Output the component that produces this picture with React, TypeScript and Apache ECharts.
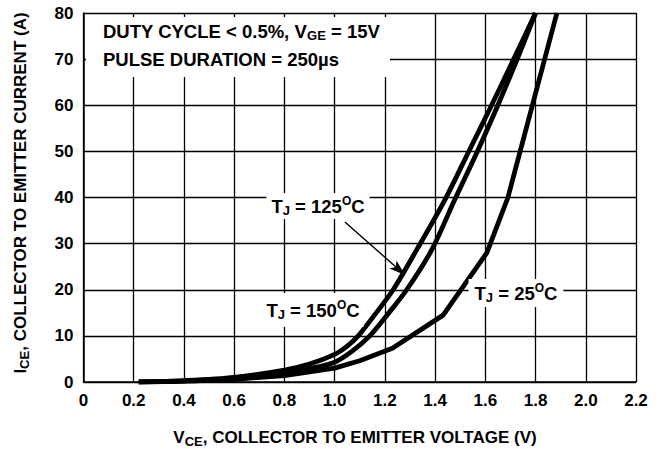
import React, { useEffect, useRef } from "react";
import * as echarts from "echarts";

const xTicks = [0, 0.2, 0.4, 0.6, 0.8, 1.0, 1.2, 1.4, 1.6, 1.8, 2.0, 2.2];
const yTicks = [0, 10, 20, 30, 40, 50, 60, 70, 80];

const tj150: [number, number][] = [
  [0.22, 0], [0.4, 0.3], [0.6, 1.0], [0.8, 2.6], [0.9, 3.9], [1.0, 6.0], [1.05, 7.8],
  [1.094, 10], [1.16, 14.6], [1.233, 20], [1.326, 28.6], [1.439, 39.5], [1.537, 50.3],
  [1.625, 60], [1.713, 70], [1.8, 80],
];
const tj125: [number, number][] = [
  [0.22, 0], [0.4, 0.2], [0.6, 0.7], [0.8, 1.9], [0.9, 2.9], [1.0, 4.3], [1.07, 6.7], [1.14, 10],
  [1.21, 14.6], [1.287, 20], [1.386, 28.6], [1.478, 39.5], [1.571, 50.3], [1.65, 60], [1.727, 70], [1.8, 80],
];
const tj25: [number, number][] = [
  [0.22, 0], [0.4, 0.2], [0.6, 0.6], [0.8, 1.4], [1.0, 3.0], [1.1, 4.6], [1.23, 7.3],
  [1.432, 14.5], [1.606, 28], [1.69, 40], [1.885, 80],
];
const arrowFrom: [number, number] = [1.041, 34.7];
const arrowTo: [number, number] = [1.28, 23.2];

const FONT = "'Liberation Sans', Arial, Helvetica, sans-serif";
const FS = 17;

function makeRich(fs: number) {
  return {
    a: { fontFamily: FONT, fontWeight: "bold", fontSize: fs, lineHeight: 22, color: "#000" },
    sub: { fontFamily: FONT, fontWeight: "bold", fontSize: 13, lineHeight: 13, verticalAlign: "bottom", color: "#000" },
    sup: { fontFamily: FONT, fontWeight: "bold", fontSize: 12, lineHeight: 12, verticalAlign: "top", color: "#000" },
  };
}
const rich = makeRich(FS);
const richBig = makeRich(18.5);

function tjLabel(temp: string, x: number, y: number, padding: number[]) {
  return {
    type: "text",
    x,
    y,
    z: 10,
    style: {
      text: `{a|T}{sub|J}{a| = ${temp}}{sup|O}{a|C}`,
      rich: richBig,
      align: "center",
      verticalAlign: "middle",
      backgroundColor: "#fff",
      padding,
    },
  };
}

export default function App() {
  const ref = useRef<HTMLDivElement>(null);
  useEffect(() => {
    if (!ref.current) return;
    const chart = echarts.init(ref.current, undefined, { renderer: "svg" });
    const lineSeries = (name: string, data: [number, number][], smooth: boolean | number) => ({
      name,
      type: "line",
      data,
      smooth,
      symbol: "none",
      lineStyle: { color: "#000", width: 4.8, join: "round", cap: "butt" },
      z: 5,
    });
    chart.setOption({
      animation: false,
      backgroundColor: "#fff",
      grid: { left: 83.5, right: 24, top: 13, bottom: 67, containLabel: false },
      xAxis: {
        type: "value",
        min: xTicks[0],
        max: xTicks[xTicks.length - 1],
        interval: 0.2,
        axisLine: { show: true, lineStyle: { color: "#000", width: 1.5 } },
        axisTick: { show: false },
        axisLabel: {
          margin: 10,
          fontFamily: FONT,
          fontWeight: "bold",
          fontSize: FS,
          color: "#000",
          formatter: (v: number) => (v === 0 ? "0" : v.toFixed(1)),
        },
        splitLine: { show: true, lineStyle: { color: "#000", width: 1.3 } },
      },
      yAxis: {
        type: "value",
        min: yTicks[0],
        max: yTicks[yTicks.length - 1],
        interval: 10,
        axisLine: { show: true, lineStyle: { color: "#000", width: 1.5 } },
        axisTick: { show: false },
        axisLabel: {
          margin: 10,
          fontFamily: FONT,
          fontWeight: "bold",
          fontSize: FS,
          color: "#000",
        },
        splitLine: { show: true, lineStyle: { color: "#000", width: 1.3 } },
      },
      series: [
        {
          ...lineSeries("TJ = 150°C", tj150, 0.3),
          markLine: {
            silent: true,
            symbol: ["none", "arrow"],
            symbolSize: [8, 16],
            lineStyle: { color: "#000", width: 1.4, type: "solid" },
            label: { show: false },
            z: 12,
            data: [[{ coord: arrowFrom }, { coord: arrowTo }]],
          },
        },
        lineSeries("TJ = 125°C", tj125, 0.3),
        lineSeries("TJ = 25°C", tj25, false),
      ],
      graphic: [
        { type: "rect", z: 9, shape: { x: 86, y: 17, width: 304, height: 60 }, style: { fill: "#fff" } },
        {
          type: "text",
          x: 103,
          y: 31,
          z: 10,
          style: {
            text: "{a|DUTY CYCLE < 0.5%, V}{sub|GE}{a| = 15V}",
            rich: richBig,
            align: "left",
            verticalAlign: "middle",
          },
        },
        {
          type: "text",
          x: 103,
          y: 59,
          z: 10,
          style: {
            text: "{a|PULSE DURATION = 250\u00b5s}",
            rich: richBig,
            align: "left",
            verticalAlign: "middle",
          },
        },
        tjLabel("125", 318, 206, [2, 5, 2, 5]),
        tjLabel("150", 313, 310, [6, 4, 6, 4]),
        tjLabel("25", 516, 293, [3, 6, 3, 6]),
        {
          type: "text",
          x: 355,
          y: 437,
          z: 10,
          style: {
            text: "{a|V}{sub|CE}{a|, COLLECTOR TO EMITTER VOLTAGE (V)}",
            rich,
            align: "center",
            verticalAlign: "middle",
          },
        },
        {
          type: "text",
          x: 20,
          y: 193,
          rotation: Math.PI / 2,
          z: 10,
          style: {
            text: "{a|I}{sub|CE}{a|, COLLECTOR TO EMITTER CURRENT (A)}",
            rich,
            align: "center",
            verticalAlign: "middle",
          },
        },
      ],
    });
    return () => chart.dispose();
  }, []);
  return (
    <div
      ref={ref}
      style={{ position: "absolute", left: 0, top: 0, width: 660, height: 449, background: "#fff" }}
    />
  );
}
